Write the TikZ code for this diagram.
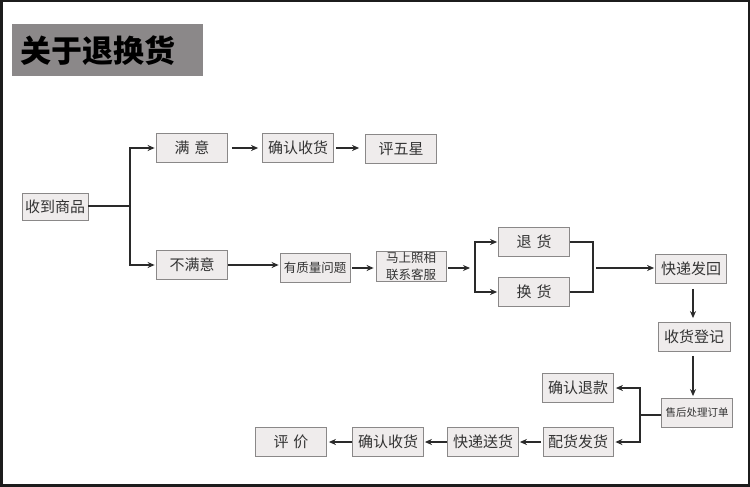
\documentclass[tikz,border=0pt]{standalone}
\usepackage{fontspec}
\newfontfamily\cjk{Noto Sans CJK SC}
\usetikzlibrary{arrows.meta}
\definecolor{boxfill}{HTML}{EFECEC}
\definecolor{boxline}{HTML}{8A8888}
\definecolor{textc}{HTML}{333333}
\definecolor{linec}{HTML}{2A2A2A}
\definecolor{titlegray}{HTML}{8B8889}
\definecolor{frame}{HTML}{1C1C1C}
\begin{document}
\begin{tikzpicture}[x=1pt,y=-1pt,
  box/.style={draw=boxline, line width=0.8pt, fill=boxfill, minimum height=29pt, minimum width=71pt, inner sep=0pt, text=textc, font=\cjk\fontsize{15}{15}\selectfont},
  smallbox/.style={box, font=\cjk\fontsize{10.5}{15}\selectfont, align=center},
  ln/.style={draw=linec, line width=1.3pt},
  arr/.style={ln, -{Stealth[length=7pt,width=6pt]}}]
\useasboundingbox (0,0) rectangle (750,487);
\fill[frame] (0,0) rectangle (750,487);
\fill[white] (3,2) rectangle (748,484);
% title
\node[fill=titlegray, anchor=north west, minimum height=52pt, text width=175pt, inner xsep=8pt, inner ysep=0pt, align=left, font=\cjk\bfseries\fontsize{31}{31}\selectfont, text=black] (title) at (12,24) {关于退换货};
% nodes
\node[box, minimum width=66pt, minimum height=27pt] (recv) at (55,207) {收到商品};
\node[box] (my) at (192,148) {满\,\,意};
\node[box] (bmy) at (192,265) {不满意};
\node[box] (qr1) at (298,148) {确认收货};
\node[box] (pwx) at (401,149) {评五星};
\node[box, minimum width=70pt, font=\cjk\fontsize{12.5}{15}\selectfont] (zl) at (315,268) {有质量问题};
\node[smallbox, minimum width=70pt, minimum height=30pt, font=\cjk\fontsize{12.5}{17}\selectfont] (mz) at (411,266) {马上照相\\联系客服};
\node[box] (th) at (534,242) {退\,\,货};
\node[box] (hh) at (534,292) {换\,\,货};
\node[box] (kd) at (691,269) {快递发回};
\node[box, minimum width=72pt] (sd) at (694,337) {收货登记};
\node[smallbox, minimum width=71pt, minimum height=29pt] (sh) at (697,413) {售后处理订单};
\node[box] (qt) at (578,388) {确认退款};
\node[box, minimum width=70pt] (ph) at (578,442) {配货发货};
\node[box] (ks) at (483,442) {快递送货};
\node[box] (qr2) at (388,442) {确认收货};
\node[box] (pj) at (291,442) {评\,\,价};
% branch 1
\coordinate (b1) at (130,206);
\draw[ln] (recv.east |- b1) -- (b1);
\draw[arr, shorten >=1.5pt] (b1) |- (my.west);
\draw[arr, shorten >=1.5pt] (b1) |- (bmy.west);
\draw[arr, shorten <=4pt, shorten >=4pt] (my.east) -- (my.east -| qr1.west);
\draw[arr, shorten <=2pt, shorten >=6pt] (qr1.east) -- (qr1.east -| pwx.west);
\draw[arr, shorten >=1pt] (bmy.east) -- (bmy.east -| zl.west);
\draw[arr, shorten <=2pt, shorten >=2pt] (zl.east) -- (zl.east -| mz.west);
% branch 2
\coordinate (s1) at (475,268);
\draw[arr, shorten <=2pt, shorten >=5pt] (mz.east |- s1) -- (s1);
\draw[arr, shorten >=1pt] (s1) |- (th.west);
\draw[arr, shorten >=1pt] (s1) |- (hh.west);
\coordinate (m1) at (593,268);
\draw[ln] (th.east) -| (m1);
\draw[ln] (hh.east) -| (m1);
\draw[arr, shorten <=3pt, shorten >=1pt] (m1) -- (m1 -| kd.west);
% down
\draw[arr, shorten <=5pt, shorten >=4pt] (kd.south) ++(2,0) coordinate (d1) -- (d1 |- sd.north);
\draw[arr, shorten <=4pt, shorten >=2pt] (sd.south) ++(-1,0) coordinate (d2) -- (d2 |- sh.north);
% branch 3
\coordinate (m2) at (640,415);
\draw[ln] (sh.west |- m2) -- (m2);
\draw[arr, shorten >=2pt] (m2) |- (qt.east);
\draw[arr, shorten >=2pt] (m2) |- (ph.east);
% bottom row
\draw[arr, shorten <=2pt, shorten >=1pt] (ph.west) -- (ks.east);
\draw[arr, shorten <=0pt, shorten >=1pt] (ks.west) -- (qr2.east);
\draw[arr, shorten <=0pt, shorten >=2pt] (qr2.west) -- (pj.east);
\end{tikzpicture}
\end{document}
